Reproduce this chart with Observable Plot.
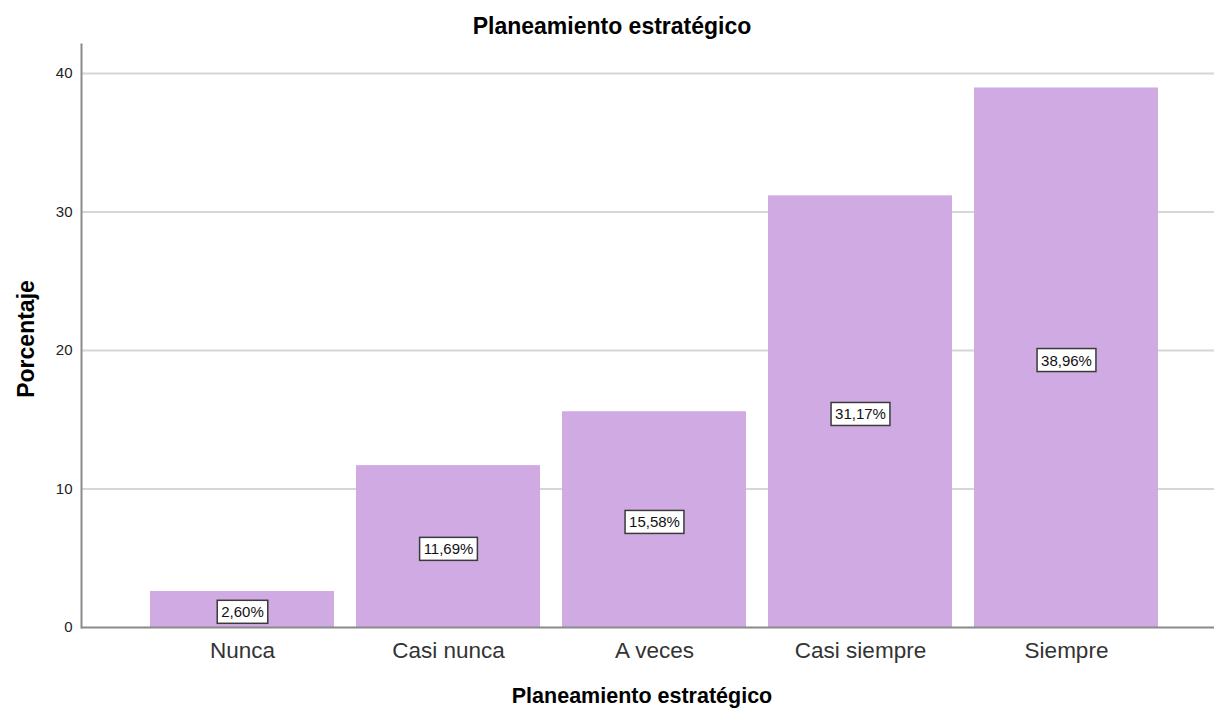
<!DOCTYPE html>
<html>
<head>
<meta charset="utf-8">
<script src="https://cdn.jsdelivr.net/npm/d3@7"></script>
<script src="https://cdn.jsdelivr.net/npm/@observablehq/plot@0.6"></script>
<style>
  body { margin: 0; background: #fff; }
  #chart svg { display: block; }
</style>
</head>
<body>
<div id="chart"></div>
<script>
// Distribution of answers for "Planeamiento estratégico"
const categories = ["Nunca", "Casi nunca", "A veces", "Casi siempre", "Siempre"];
const percentages = [2.60, 11.69, 15.58, 31.17, 38.96];
const yTicks = [0, 10, 20, 30, 40];
const chartTitle = "Planeamiento estratégico";
const xTitle = "Planeamiento estratégico";
const yTitle = "Porcentaje";

const rows = categories.map((c, i) => ({categoria: c, porcentaje: percentages[i]}));
const pct = v => v.toFixed(2).replace(".", ",") + "%";
const font = "Liberation Sans, Arial, sans-serif";

const chart = Plot.plot({
  width: 1214,
  height: 708,
  marginTop: 44,
  marginLeft: 81,
  marginRight: 0,
  marginBottom: 81,
  style: {fontFamily: font, background: "#fff", color: "#222"},
  x: {domain: categories, range: [149, 1158], paddingInner: 0.107, paddingOuter: 0, label: null},
  y: {domain: [0, 42.1], label: null},
  marks: [
    Plot.gridY(yTicks.filter(d => d > 0), {stroke: "#d6d6d6", strokeOpacity: 1, strokeWidth: 2}),
    Plot.barY(rows, {x: "categoria", y: "porcentaje", fill: "#cfaae3"}),
    Plot.ruleY([0], {stroke: "#8a8a8a", strokeWidth: 2}),
    Plot.frame({anchor: "left", stroke: "#8a8a8a", strokeWidth: 2}),
    Plot.axisY({ticks: yTicks, tickSize: 0, tickPadding: 9, fontSize: 15, fill: "#222", label: null}),
    Plot.axisX({tickSize: 0, tickPadding: 15, fontSize: 22.5, fill: "#333", label: null}),
    // value labels at half bar height
    Plot.text(rows, {
      x: "categoria", y: d => d.porcentaje / 2, dy: 3,
      text: d => pct(d.porcentaje),
      fontSize: 15, fill: "#111", className: "value-label"
    }),
    // titles
    Plot.text([chartTitle], {frameAnchor: "top", text: d => d, dx: -36, dy: -11, lineAnchor: "bottom",
      fontSize: 23, fontWeight: "bold", fill: "#000"}),
    Plot.text([xTitle], {frameAnchor: "bottom", text: d => d, dx: -6, dy: 75, lineAnchor: "bottom",
      fontSize: 21.5, fontWeight: "bold", fill: "#000"}),
    Plot.text([yTitle], {frameAnchor: "left", text: d => d, dx: -48, dy: 3, rotate: -90,
      textAnchor: "middle", lineAnchor: "bottom",
      fontSize: 23, fontWeight: "bold", fill: "#000"})
  ]
});

document.getElementById("chart").appendChild(chart);

// white boxes with a dark border behind each value label
chart.querySelectorAll("g.value-label text").forEach(t => {
  const b = t.getBBox();
  const padX = 4, padY = 3;
  const r = document.createElementNS("http://www.w3.org/2000/svg", "rect");
  r.setAttribute("x", b.x - padX);
  r.setAttribute("y", b.y - padY);
  r.setAttribute("width", b.width + 2 * padX);
  r.setAttribute("height", b.height + 2 * padY);
  r.setAttribute("fill", "#fff");
  r.setAttribute("stroke", "#3a3a3a");
  r.setAttribute("stroke-width", 1.5);
  const tr = t.getAttribute("transform");
  if (tr) r.setAttribute("transform", tr);
  t.parentNode.insertBefore(r, t);
});
</script>
</body>
</html>
